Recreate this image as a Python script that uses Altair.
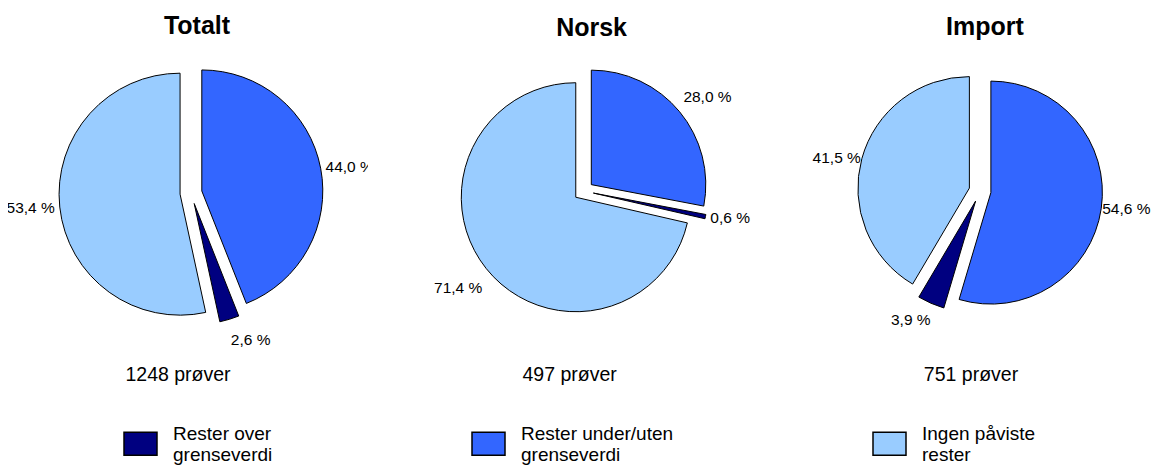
import altair as alt
import pandas as pd

# ---------------- data ----------------
panels = ["Totalt", "Norsk", "Import"]
counts = [1248, 497, 751]
# slice order, clockwise from 12 o'clock
slice_categories = ["Rester under/uten grenseverdi", "Rester over grenseverdi", "Ingen påviste rester"]
totalt_values = [44.0, 2.6, 53.4]
norsk_values = [28.0, 0.6, 71.4]
import_values = [54.6, 3.9, 41.5]
legend_order = ["Rester over grenseverdi", "Rester under/uten grenseverdi", "Ingen påviste rester"]
legend_colors = ["#000080", "#3366FF", "#99CCFF"]

# ---------------- style ----------------
FONT = "Liberation Sans"
W = 360          # panel width
H = 400          # panel height
GAP = 32
panel_style = {
    # radius, explode distance, pie centre offset from panel middle, pie centre y,
    # label gap, title / count x offsets from pie centre, title baseline y
    "Totalt": dict(radius=121, explode=11, offx=3, cy=185, gap=5, tdx=6, cdx=-13, ty=26),
    "Norsk": dict(radius=114.5, explode=10, offx=3.6, cy=183, gap=5, tdx=8, cdx=-14, ty=28),
    "Import": dict(radius=111.5, explode=11, offx=8, cy=183, gap=1, tdx=5, cdx=-9, ty=27),
}

color_scale = alt.Scale(domain=legend_order, range=legend_colors)


def pie_panel(name, values, count):
    st = panel_style[name]
    r = st["radius"]
    E = st["explode"]
    dist = r + E + st["gap"]
    xs = alt.Scale(domain=[-(W / 2 + st["offx"]), W / 2 - st["offx"]], nice=False, zero=False)
    ys = alt.Scale(domain=[-(H - st["cy"]), st["cy"]], nice=False, zero=False)

    df = pd.DataFrame({"kategori": slice_categories, "verdi": values, "rekke": [0, 1, 2]})
    base = (
        alt.Chart(df)
        .transform_window(cum="sum(verdi)", sort=[alt.SortField("rekke")], frame=[None, 0])
        .transform_joinaggregate(total="sum(verdi)")
        .transform_calculate(
            t0="2*PI*(datum.cum - datum.verdi)/datum.total",
            t1="2*PI*datum.cum/datum.total",
        )
        .transform_calculate(mid="(datum.t0 + datum.t1)/2")
        .transform_calculate(
            ex=f"{E}*sin(datum.mid)",
            ey=f"{E}*cos(datum.mid)",
            lx=f"{dist}*sin(datum.mid)",
            ly=f"{dist}*cos(datum.mid) + (cos(datum.mid) > 0.5 ? 11 : (cos(datum.mid) < -0.5 ? -16 : 0))",
            side="sin(datum.mid) > 0.25 ? 'left' : (sin(datum.mid) < -0.25 ? 'right' : 'center')",
            etikett="replace(format(datum.verdi, '.1f'), '.', ',') + ' %'",
        )
    )
    arcs = base.mark_arc(radius=r, stroke="black", strokeWidth=1).encode(
        theta=alt.Theta("t0:Q", scale=None),
        theta2="t1:Q",
        x=alt.X("ex:Q", scale=xs, axis=None),
        y=alt.Y("ey:Q", scale=ys, axis=None),
        color=alt.Color(
            "kategori:N",
            scale=color_scale,
            legend=alt.Legend(
                title=None,
                orient="none",
                direction="horizontal",
                legendX=115,
                legendY=418,
                symbolType="M-1,-0.7L1,-0.7L1,0.7L-1,0.7Z",
                symbolSize=1089,
                symbolStrokeColor="black",
                symbolStrokeWidth=1.5,
                symbolOpacity=1,
                labelFont=FONT,
                labelFontSize=19,
                labelColor="black",
                labelOffset=15,
                labelLimit=400,
                labelBaseline="bottom",
                columnPadding=196,
                labelExpr="[slice(datum.label, 0, lastindexof(datum.label, ' ')), slice(datum.label, lastindexof(datum.label, ' ') + 1)]",
            ),
        ),
        order=alt.Order("rekke:Q"),
    )
    label_layers = []
    for a in ["left", "right", "center"]:
        label_layers.append(
            base.transform_filter(f"datum.side == '{a}'")
            .mark_text(font=FONT, fontSize=15.5, color="black", baseline="middle", align=a, clip=True)
            .encode(
                x=alt.X("lx:Q", scale=xs, axis=None),
                y=alt.Y("ly:Q", scale=ys, axis=None),
                text="etikett:N",
            )
        )
    tdf = pd.DataFrame({"tittel": [name], "antall": [f"{count} prøver"]})
    centre_x = W / 2 + st["offx"]
    title = alt.Chart(tdf).mark_text(
        font=FONT, fontSize=25, fontWeight="bold", color="black", baseline="alphabetic", align="center"
    ).encode(x=alt.value(centre_x + st["tdx"]), y=alt.value(st["ty"]), text="tittel:N")
    ctext = alt.Chart(tdf).mark_text(
        font=FONT, fontSize=19.5, color="black", baseline="alphabetic", align="center"
    ).encode(x=alt.value(centre_x + st["cdx"]), y=alt.value(373), text="antall:N")
    return alt.layer(arcs, *label_layers, title, ctext).properties(width=W, height=H)


charts = [
    pie_panel(panels[0], totalt_values, counts[0]),
    pie_panel(panels[1], norsk_values, counts[1]),
    pie_panel(panels[2], import_values, counts[2]),
]

chart = (
    alt.hconcat(*charts, spacing=GAP)
    .properties(padding=0, background="white")
    .configure_view(stroke=None)
)

chart.save("out.html", embed_options={"renderer": "svg", "actions": False})
